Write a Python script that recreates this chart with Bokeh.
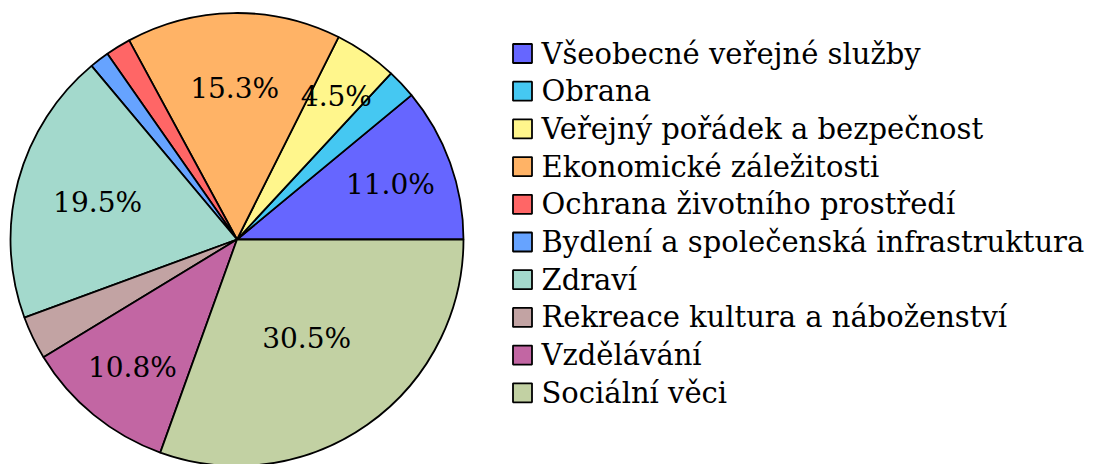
import math
from bokeh.plotting import figure
from bokeh.models import ColumnDataSource
from bokeh.core.properties import value
from bokeh.embed import file_html
from bokeh.resources import INLINE

categories = [
    "Všeobecné veřejné služby",
    "Obrana",
    "Veřejný pořádek a bezpečnost",
    "Ekonomické záležitosti",
    "Ochrana životního prostředí",
    "Bydlení a společenská infrastruktura",
    "Zdraví",
    "Rekreace  kultura a náboženství",
    "Vzdělávání",
    "Sociální věci",
]
shares = [11.0, 2.1, 4.5, 15.3, 1.8, 1.4, 19.5, 3.1, 10.8, 30.5]
colors = ["#6666FF", "#45C8F2", "#FFF68C", "#FFB366", "#FF6666",
          "#66A3FF", "#A3D9CC", "#C2A3A3", "#C266A3", "#C2D1A3"]

# label radius fractions (style)
label_r = [0.72, 0.6, 0.77, 0.668, 0.6, 0.6, 0.637, 0.6, 0.73, 0.535]

W, H = 1102, 464
cx, cy, R = 236.5, 225.0, 226.5

total = sum(shares)
starts, ends = [], []
a = 0.0
for s in shares:
    starts.append(a)
    a += s / total * 2 * math.pi
    ends.append(a)

p = figure(width=W, height=H, x_range=(0, W), y_range=(0, H),
           output_backend="svg", toolbar_location=None, min_border=0)
p.axis.visible = False
p.grid.visible = False
p.outline_line_color = None
p.background_fill_color = "white"

src = ColumnDataSource(dict(start=starts, end=ends, color=colors,
                            x=[cx] * len(shares), y=[cy] * len(shares)))
p.wedge(x="x", y="y", radius=R, start_angle="start", end_angle="end",
        direction="anticlock", fill_color="color", line_color="black",
        line_width=1.8, source=src)

lx, ly, lt = [], [], []
for i, s in enumerate(shares):
    if s >= 4:
        mid = (starts[i] + ends[i]) / 2
        lx.append(cx + label_r[i] * R * math.cos(mid))
        ly.append(cy + label_r[i] * R * math.sin(mid))
        lt.append(f"{s:.1f}%")
p.text(x=lx, y=ly, text=lt, text_align="center", text_baseline="middle",
       text_font=value("DejaVu Serif"), text_font_size="28px", text_color="black")

# legend
n = len(categories)
leg_y = [411 - i * 37.7 for i in range(n)]
p.rect(x=[522] * n, y=leg_y, width=19, height=19, fill_color=colors,
       line_color="black", line_width=1.8)
p.text(x=[541] * n, y=leg_y, text=categories, text_align="left",
       text_baseline="middle", text_font=value("DejaVu Serif"),
       text_font_size="29px", text_color="black")

open("out.html", "w").write(file_html(p, INLINE))
